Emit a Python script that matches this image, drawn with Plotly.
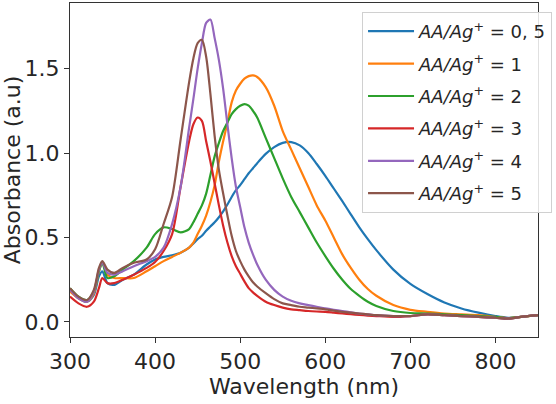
import plotly.graph_objects as go

# Wavelength grid (nm)
wavelength = [300, 310, 320, 328, 334, 338, 344, 352, 362, 375, 390, 400, 410, 420, 430, 440, 445, 450, 455, 460,
              465, 470, 475, 480, 485, 490, 495, 500, 505, 510, 515, 520, 530, 540, 550, 560, 570, 580, 590, 600,
              610, 620, 630, 640, 650, 660, 680, 700, 720, 740, 760, 780, 800, 815, 830, 850]

abs_05 = [0.19, 0.14, 0.12, 0.16, 0.27, 0.30, 0.23, 0.22, 0.25, 0.28, 0.34, 0.37, 0.385, 0.395, 0.41, 0.44, 0.465, 0.49, 0.51, 0.54,
          0.565, 0.59, 0.62, 0.655, 0.695, 0.74, 0.78, 0.81, 0.845, 0.88, 0.91, 0.94, 0.995, 1.035, 1.06, 1.065, 1.045, 1.0, 0.935, 0.865,
          0.79, 0.715, 0.637, 0.56, 0.49, 0.425, 0.31, 0.225, 0.165, 0.115, 0.08, 0.055, 0.035, 0.025, 0.03, 0.04]

abs_1 = [0.18, 0.14, 0.12, 0.17, 0.30, 0.35, 0.28, 0.26, 0.26, 0.26, 0.30, 0.33, 0.36, 0.385, 0.41, 0.44, 0.47, 0.52, 0.57, 0.63,
         0.71, 0.81, 0.95, 1.07, 1.18, 1.30, 1.37, 1.41, 1.44, 1.455, 1.46, 1.45, 1.39, 1.28, 1.13, 1.02, 0.91, 0.80, 0.69, 0.60,
         0.50, 0.40, 0.32, 0.25, 0.195, 0.155, 0.10, 0.072, 0.06, 0.05, 0.045, 0.04, 0.03, 0.022, 0.03, 0.04]

abs_2 = [0.20, 0.15, 0.13, 0.18, 0.30, 0.35, 0.26, 0.27, 0.31, 0.36, 0.44, 0.52, 0.56, 0.55, 0.53, 0.55, 0.59, 0.64, 0.69, 0.76,
         0.87, 0.98, 1.06, 1.13, 1.18, 1.23, 1.26, 1.28, 1.29, 1.28, 1.25, 1.21, 1.09, 0.97, 0.85, 0.74, 0.65, 0.56, 0.47, 0.39,
         0.315, 0.25, 0.195, 0.155, 0.12, 0.095, 0.065, 0.053, 0.05, 0.045, 0.04, 0.035, 0.03, 0.022, 0.03, 0.04]

abs_3 = [0.15, 0.11, 0.09, 0.12, 0.20, 0.26, 0.23, 0.23, 0.25, 0.28, 0.32, 0.355, 0.42, 0.52, 0.80, 1.07, 1.17, 1.21, 1.19, 1.07,
         0.95, 0.82, 0.69, 0.57, 0.47, 0.39, 0.33, 0.285, 0.24, 0.20, 0.175, 0.155, 0.12, 0.10, 0.085, 0.075, 0.07, 0.065, 0.062, 0.06,
         0.055, 0.05, 0.046, 0.042, 0.038, 0.035, 0.03, 0.035, 0.045, 0.04, 0.035, 0.03, 0.025, 0.02, 0.03, 0.04]

abs_4 = [0.19, 0.14, 0.12, 0.18, 0.31, 0.35, 0.29, 0.28, 0.30, 0.33, 0.36, 0.385, 0.44, 0.58, 0.80, 1.15, 1.32, 1.50, 1.65, 1.77,
         1.79, 1.68, 1.55, 1.38, 1.17, 0.97, 0.80, 0.68, 0.56, 0.47, 0.40, 0.34, 0.25, 0.19, 0.15, 0.125, 0.11, 0.10, 0.09, 0.08,
         0.072, 0.065, 0.057, 0.05, 0.045, 0.04, 0.035, 0.035, 0.045, 0.04, 0.035, 0.03, 0.025, 0.02, 0.03, 0.04]

abs_5 = [0.20, 0.15, 0.13, 0.19, 0.32, 0.36, 0.31, 0.29, 0.32, 0.35, 0.37, 0.43, 0.58, 0.74, 1.08, 1.42, 1.56, 1.65, 1.67, 1.57,
         1.35, 1.10, 0.90, 0.76, 0.63, 0.51, 0.42, 0.36, 0.31, 0.27, 0.235, 0.21, 0.17, 0.135, 0.11, 0.10, 0.09, 0.085, 0.08, 0.075,
         0.067, 0.06, 0.055, 0.05, 0.045, 0.04, 0.035, 0.035, 0.045, 0.04, 0.035, 0.03, 0.025, 0.02, 0.03, 0.04]

series_labels = ["0, 5", "1", "2", "3", "4", "5"]
series_values = [abs_05, abs_1, abs_2, abs_3, abs_4, abs_5]
colors = ["#1f77b4", "#ff7f0e", "#2ca02c", "#d62728", "#9467bd", "#8c564b"]

x_ticks = [300, 400, 500, 600, 700, 800]
y_ticks = [0.0, 0.5, 1.0, 1.5]

fig = go.Figure()
for i, (lab, vals, col) in enumerate(zip(series_labels, series_values, colors)):
    fig.add_trace(go.Scatter(
        x=wavelength, y=vals, mode="lines",
        line=dict(color=col, width=2.2, shape="spline", smoothing=0.8),
        name="<i>AA/Ag</i><sup>+</sup> = " + lab,
        legendgroup="g%d" % i,
    ))

font_family = "DejaVu Sans"
axis_common = dict(
    showgrid=False, zeroline=False, showline=True, linecolor="#333333", linewidth=1.1,
    mirror=True, ticks="outside", ticklen=5, tickwidth=1.1, tickcolor="#333333",
    tickfont=dict(family=font_family, size=22, color="#262626"),
)

fig.update_layout(
    width=556, height=404,
    margin=dict(l=70, r=18, t=3, b=67),
    paper_bgcolor="white", plot_bgcolor="white",
    font=dict(family=font_family, color="#262626"),
    xaxis=dict(range=[300, 850], tickvals=x_ticks, ticktext=[str(v) for v in x_ticks],
               title=dict(text="Wavelength (nm)", font=dict(family=font_family, size=22, color="#262626"), standoff=4),
               **axis_common),
    yaxis=dict(range=[-0.089, 1.888], tickvals=y_ticks, ticktext=["%.1f" % v for v in y_ticks],
               title=dict(text="Absorbance (a.u)", font=dict(family=font_family, size=22, color="#262626"), standoff=6),
               **axis_common),
    legend=dict(x=0.624, y=0.973, xanchor="left", yanchor="top",
                bgcolor="rgba(255,255,255,0.85)", bordercolor="#d0d0d0", borderwidth=1,
                font=dict(family=font_family, size=18, color="#262626"),
                tracegroupgap=6, itemwidth=46),
    showlegend=True,
)

fig.write_html("out.html")
